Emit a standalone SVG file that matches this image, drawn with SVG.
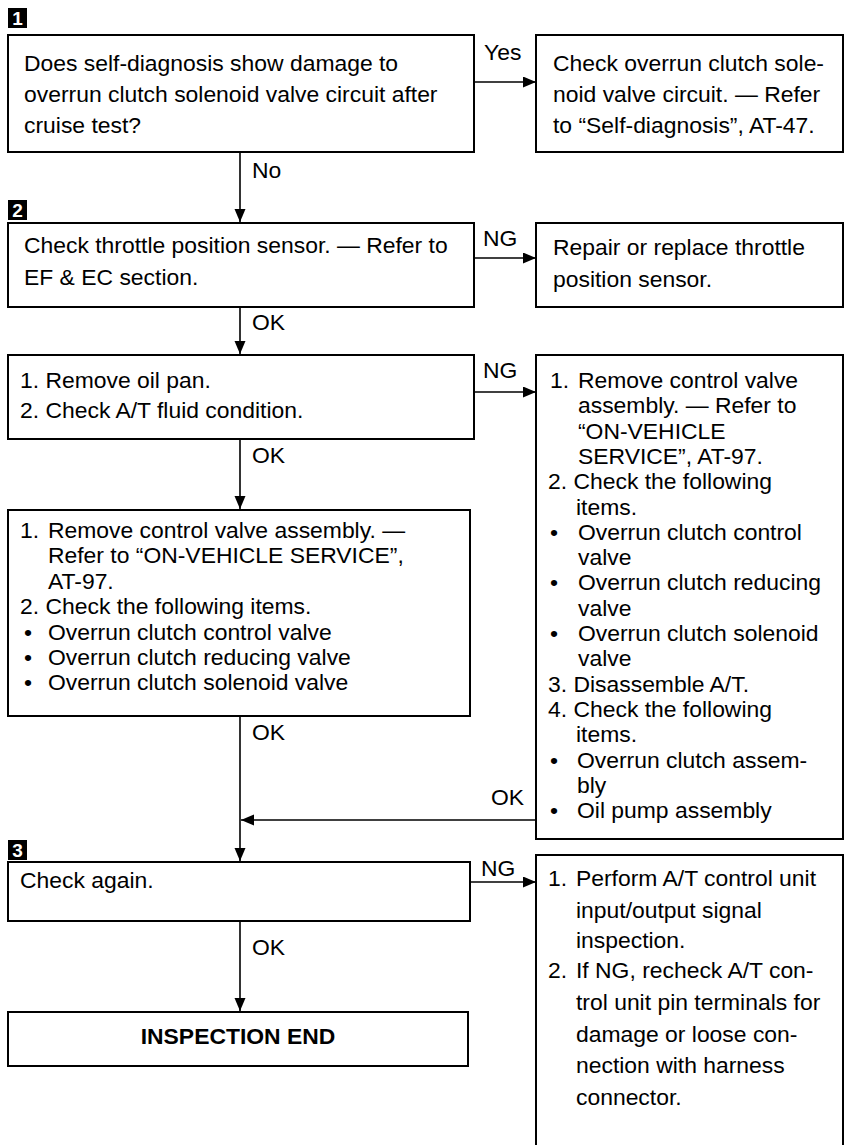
<svg xmlns="http://www.w3.org/2000/svg" width="846" height="1145" viewBox="0 0 846 1145">
<style>
.bg{fill:#fff}
.box{fill:#fff;stroke:#000;stroke-width:2}
.t{font-family:"Liberation Sans",Arial,Helvetica,sans-serif;font-size:22.9px;fill:#000}
.b{font-weight:bold}
.tag{fill:#000}
.tagt{font-family:"Liberation Sans",Arial,Helvetica,sans-serif;font-size:19px;font-weight:bold;fill:#fff;text-anchor:middle}
.c{stroke:#000;stroke-width:1.6;fill:none}
</style>
<defs>
<marker id="ah" markerUnits="userSpaceOnUse" markerWidth="14" markerHeight="12" refX="13" refY="5.5" orient="auto">
<path d="M0,0 L13,5.5 L0,11 z" fill="#000"/>
</marker>
</defs>
<rect class="bg" x="0" y="0" width="846" height="1145"/>

<g id="tags">
<rect class="tag" x="8" y="8" width="19" height="20"/><text class="tagt" x="17.5" y="25">1</text>
<rect class="tag" x="8" y="200" width="19" height="20"/><text class="tagt" x="17.5" y="217">2</text>
<rect class="tag" x="8" y="840" width="19" height="20"/><text class="tagt" x="17.5" y="857">3</text>
</g>

<g id="connectors">
<line class="c" x1="474" y1="82" x2="536" y2="82" marker-end="url(#ah)"/>
<line class="c" x1="240" y1="152" x2="240" y2="222" marker-end="url(#ah)"/>
<line class="c" x1="474" y1="258" x2="536" y2="258" marker-end="url(#ah)"/>
<line class="c" x1="240" y1="307" x2="240" y2="354" marker-end="url(#ah)"/>
<line class="c" x1="474" y1="392" x2="536" y2="392" marker-end="url(#ah)"/>
<line class="c" x1="240" y1="439" x2="240" y2="509" marker-end="url(#ah)"/>
<line class="c" x1="240" y1="716" x2="240" y2="861" marker-end="url(#ah)"/>
<line class="c" x1="536" y1="820" x2="241" y2="820" marker-end="url(#ah)"/>
<line class="c" x1="470" y1="882" x2="536" y2="882" marker-end="url(#ah)"/>
<line class="c" x1="240" y1="921" x2="240" y2="1011" marker-end="url(#ah)"/>
<text class="t" x="484" y="60">Yes</text>
<text class="t" x="252" y="178">No</text>
<text class="t" x="483" y="246">NG</text>
<text class="t" x="252" y="330">OK</text>
<text class="t" x="483" y="378">NG</text>
<text class="t" x="252" y="463">OK</text>
<text class="t" x="252" y="740">OK</text>
<text class="t" x="491" y="805">OK</text>
<text class="t" x="481" y="876">NG</text>
<text class="t" x="252" y="955">OK</text>
</g>

<g id="node-q1">
<rect class="box" x="8" y="35" width="466" height="117"/>
<text class="t" x="24" y="71">Does self-diagnosis show damage to</text>
<text class="t" x="24" y="102">overrun clutch solenoid valve circuit after</text>
<text class="t" x="24" y="133">cruise test?</text>
</g>

<g id="node-r1">
<rect class="box" x="536" y="35" width="307" height="117"/>
<text class="t" x="553" y="71">Check overrun clutch sole-</text>
<text class="t" x="553" y="102">noid valve circuit. — Refer</text>
<text class="t" x="553" y="133">to “Self-diagnosis”, AT-47.</text>
</g>

<g id="node-q2">
<rect class="box" x="8" y="223" width="466" height="84"/>
<text class="t" x="24" y="253">Check throttle position sensor. — Refer to</text>
<text class="t" x="24" y="285">EF &amp; EC section.</text>
</g>

<g id="node-r2">
<rect class="box" x="536" y="223" width="307" height="84"/>
<text class="t" x="553" y="255">Repair or replace throttle</text>
<text class="t" x="553" y="287">position sensor.</text>
</g>

<g id="node-q3">
<rect class="box" x="8" y="355" width="466" height="84"/>
<text class="t" x="20" y="388">1. Remove oil pan.</text>
<text class="t" x="20" y="418">2. Check A/T fluid condition.</text>
</g>

<g id="node-r3">
<rect class="box" x="536" y="355" width="307" height="484"/>
<text class="t" x="550" y="388">1.</text><text class="t" x="578" y="388">Remove control valve</text>
<text class="t" x="578" y="413.3">assembly. — Refer to</text>
<text class="t" x="578" y="438.6">“ON-VEHICLE</text>
<text class="t" x="578" y="463.9">SERVICE”, AT-97.</text>
<text class="t" x="548" y="489.2">2. Check the following</text>
<text class="t" x="576" y="514.5">items.</text>
<text class="t" x="550" y="539.8">•</text><text class="t" x="578" y="539.8">Overrun clutch control</text>
<text class="t" x="578" y="565.1">valve</text>
<text class="t" x="550" y="590.4">•</text><text class="t" x="578" y="590.4">Overrun clutch reducing</text>
<text class="t" x="578" y="615.7">valve</text>
<text class="t" x="550" y="641">•</text><text class="t" x="578" y="641">Overrun clutch solenoid</text>
<text class="t" x="578" y="666.3">valve</text>
<text class="t" x="548" y="691.6">3. Disassemble A/T.</text>
<text class="t" x="548" y="716.9">4. Check the following</text>
<text class="t" x="576" y="742.2">items.</text>
<text class="t" x="550" y="767.5">•</text><text class="t" x="577" y="767.5">Overrun clutch assem-</text>
<text class="t" x="577" y="792.8">bly</text>
<text class="t" x="550" y="818.1">•</text><text class="t" x="577" y="818.1">Oil pump assembly</text>
</g>

<g id="node-q4">
<rect class="box" x="8" y="510" width="462" height="206"/>
<text class="t" x="20" y="538">1.</text><text class="t" x="48" y="538">Remove control valve assembly. —</text>
<text class="t" x="48" y="563.4">Refer to “ON-VEHICLE SERVICE”,</text>
<text class="t" x="48" y="588.8">AT-97.</text>
<text class="t" x="20" y="614.2">2. Check the following items.</text>
<text class="t" x="24" y="639.6">•</text><text class="t" x="48" y="639.6">Overrun clutch control valve</text>
<text class="t" x="24" y="665">•</text><text class="t" x="48" y="665">Overrun clutch reducing valve</text>
<text class="t" x="24" y="690.4">•</text><text class="t" x="48" y="690.4">Overrun clutch solenoid valve</text>
</g>

<g id="node-q5">
<rect class="box" x="8" y="862" width="462" height="59"/>
<text class="t" x="20" y="888">Check again.</text>
</g>

<g id="node-r5">
<rect class="box" x="536" y="855" width="307" height="310"/>
<text class="t" x="548" y="886">1.</text><text class="t" x="576" y="886">Perform A/T control unit</text>
<text class="t" x="576" y="918">input/output signal</text>
<text class="t" x="576" y="948">inspection.</text>
<text class="t" x="548" y="978">2.</text><text class="t" x="576" y="978">If NG, recheck A/T con-</text>
<text class="t" x="576" y="1010">trol unit pin terminals for</text>
<text class="t" x="576" y="1042">damage or loose con-</text>
<text class="t" x="576" y="1073">nection with harness</text>
<text class="t" x="576" y="1105">connector.</text>
</g>

<g id="node-end">
<rect class="box" x="8" y="1012" width="460" height="54"/>
<text class="t b" x="238" y="1044" text-anchor="middle">INSPECTION END</text>
</g>
</svg>
